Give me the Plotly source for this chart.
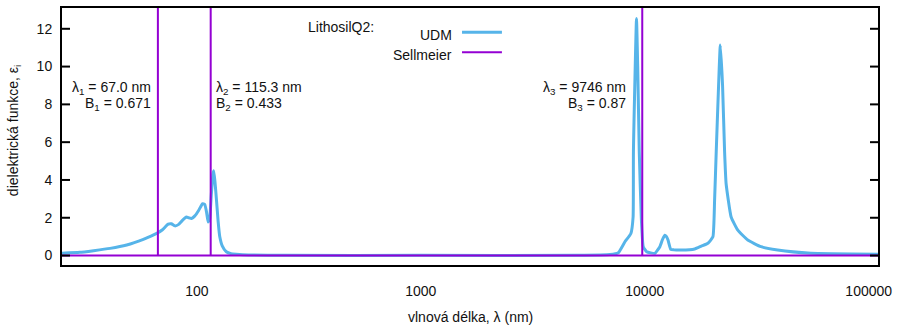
import math
import plotly.graph_objects as go

# UDM model: imaginary part of the dielectric function of LithosilQ2
udm_wavelength_nm = [
    25, 30, 34.6, 41, 48.6, 57.7, 66.2, 70, 74.5, 77, 79.8, 83, 86, 89.9, 92, 94.7,
    98, 102, 106, 108.5, 110.5, 112.3, 114, 116, 118, 119, 120.5, 122.4, 124.5,
    126.6, 130, 135.4, 142, 150, 170, 250, 1000, 5000, 7000, 7621, 8155, 8670,
    8870, 8900, 9185, 9300, 9450, 9650, 9845, 10190, 11100, 11680, 12000, 12280,
    12500, 12700, 13060, 13500, 14560, 16700, 17880, 19150, 20150, 20500, 20850,
    21300, 21740, 22250, 22720, 23080, 24300, 26030, 28830, 33050, 39200, 55200,
    110000,
]
udm_eps_i = [
    0.12, 0.17, 0.26, 0.38, 0.56, 0.86, 1.17, 1.35, 1.66, 1.68, 1.57, 1.65, 1.85,
    2.04, 2.0, 1.96, 2.1, 2.4, 2.74, 2.7, 2.3, 1.78, 1.9, 3.2, 4.3, 4.49, 3.9,
    2.92, 1.8, 1.0, 0.5, 0.2, 0.1, 0.07, 0.03, 0.01, 0.01, 0.01, 0.05, 0.15, 0.73,
    1.17, 2.04, 5.5, 12.54, 10.0, 5.5, 2.0, 0.47, 0.2, 0.12, 0.47, 0.85, 1.08,
    1.0, 0.82, 0.33, 0.3, 0.29, 0.35, 0.5, 0.65, 0.99, 2.92, 5.5, 8.6, 11.14,
    9.0, 5.5, 3.8, 2.04, 1.34, 0.82, 0.47, 0.29, 0.12, 0.07,
]

# Sellmeier model: resonance wavelengths and oscillator strengths
sellmeier_lambda_nm = [67.0, 115.3, 9746]
sellmeier_B = [0.671, 0.433, 0.87]
sellmeier_labels_lambda = ["67.0", "115.3", "9746"]
sellmeier_labels_B = ["0.671", "0.433", "0.87"]

x_range_nm = [25, 110000]
y_range = [-0.5, 13.1]
x_major_ticks = [100, 1000, 10000, 100000]
x_minor_ticks = [50, 80, 200, 500, 800, 2000, 5000, 8000, 20000, 50000, 80000]
y_ticks = [0, 2, 4, 6, 8, 10, 12]

BLUE = "#56B4E9"
PURPLE = "#9400D3"
FONT = "Liberation Sans"

# Sellmeier eps_i is zero except for delta-like resonances
sx, sy = [x_range_nm[0]], [0.0]
for lam in sellmeier_lambda_nm:
    sx += [lam, lam, lam]
    sy += [0.0, 1000.0, 0.0]
sx.append(x_range_nm[1])
sy.append(0.0)

fig = go.Figure()
fig.add_trace(go.Scatter(x=udm_wavelength_nm, y=udm_eps_i, mode="lines",
                         line=dict(color=BLUE, width=3, shape="spline",
                                   smoothing=0.4),
                         name="UDM", showlegend=False))
fig.add_trace(go.Scatter(x=sx, y=sy, mode="lines",
                         line=dict(color=PURPLE, width=2), name="Sellmeier",
                         showlegend=False))

L, R, T, B = 62, 18, 6, 61
W, H = 898, 326
pw, ph = W - L - R, H - T - B


def px(xpix):
    return (xpix - L) / pw


def py(ypix):
    return (H - B - ypix) / ph


ann = []
txt = dict(family=FONT, size=14, color="#111")

# legend
ann.append(dict(x=px(307), y=py(25), xref="paper", yref="paper", text="LithosilQ2:",
                showarrow=False, xanchor="left", yanchor="middle", font=txt))
ann.append(dict(x=px(455), y=py(33), xref="paper", yref="paper", text="UDM",
                showarrow=False, xanchor="right", yanchor="middle", font=txt))
ann.append(dict(x=px(455), y=py(53), xref="paper", yref="paper", text="Sellmeier",
                showarrow=False, xanchor="right", yanchor="middle", font=txt))
shapes = [
    dict(type="line", xref="paper", yref="paper", x0=px(463), x1=px(503),
         y0=py(30.5), y1=py(30.5), line=dict(color=BLUE, width=3)),
    dict(type="line", xref="paper", yref="paper", x0=px(463), x1=px(503),
         y0=py(50.5), y1=py(50.5), line=dict(color=PURPLE, width=2)),
]

# inward tick marks on all four sides of the frame
tick_line = dict(color="black", width=2)
for vals, length in [(x_major_ticks, 9), (x_minor_ticks, 5)]:
    for v in vals:
        xv = math.log10(v)
        shapes.append(dict(type="line", xref="x", yref="paper", x0=xv, x1=xv,
                           y0=0, y1=length / ph, line=tick_line))
        shapes.append(dict(type="line", xref="x", yref="paper", x0=xv, x1=xv,
                           y0=1, y1=1 - length / ph, line=tick_line))
for v in y_ticks:
    shapes.append(dict(type="line", xref="paper", yref="y", x0=0, x1=8 / pw,
                       y0=v, y1=v, line=tick_line))
    shapes.append(dict(type="line", xref="paper", yref="y", x0=1,
                       x1=1 - 8 / pw, y0=v, y1=v, line=tick_line))

# resonance labels
label_cfg = [("right", -5), ("left", 3), ("right", -14)]
for i, lam in enumerate(sellmeier_lambda_nm):
    anchor, shift = label_cfg[i]
    for text, ypix in [
        (f"\u03bb<sub>{i+1}</sub> = {sellmeier_labels_lambda[i]} nm", 87),
        (f"B<sub>{i+1}</sub> = {sellmeier_labels_B[i]}", 103),
    ]:
        ann.append(dict(x=math.log10(lam), y=py(ypix), xref="x", yref="paper",
                        text=text, showarrow=False, xanchor=anchor,
                        yanchor="middle", xshift=shift, font=txt))

# axis titles
ann.append(dict(x=px(14), y=py(130), xref="paper", yref="paper",
                text="dielektrická funkce, \u03b5<sub>i</sub>", showarrow=False,
                textangle=-90, xanchor="center", yanchor="middle", font=txt))
ann.append(dict(x=px(471), y=py(317), xref="paper", yref="paper",
                text="vlnová délka, \u03bb (nm)", showarrow=False,
                xanchor="center", yanchor="middle", font=txt))

log_range = [math.log10(x_range_nm[0]), math.log10(x_range_nm[1])]

fig.update_layout(
    width=W, height=H,
    margin=dict(l=L, r=R, t=T, b=B),
    paper_bgcolor="white", plot_bgcolor="white",
    font=txt,
    annotations=ann, shapes=shapes,
    showlegend=False,
    xaxis=dict(type="log", range=log_range, tickmode="array",
               tickvals=x_major_ticks,
               ticktext=[str(v) for v in x_major_ticks],
               ticks="", showline=True, linewidth=2, linecolor="black",
               mirror=True, showgrid=False, zeroline=False,
               ticklabelstandoff=12, tickfont=txt),
    yaxis=dict(range=y_range, tickmode="array", tickvals=y_ticks,
               ticks="", showline=True, linewidth=2, linecolor="black",
               mirror=True, showgrid=False, zeroline=False,
               ticklabelstandoff=5, tickfont=txt),
)

fig.write_html("out.html")
